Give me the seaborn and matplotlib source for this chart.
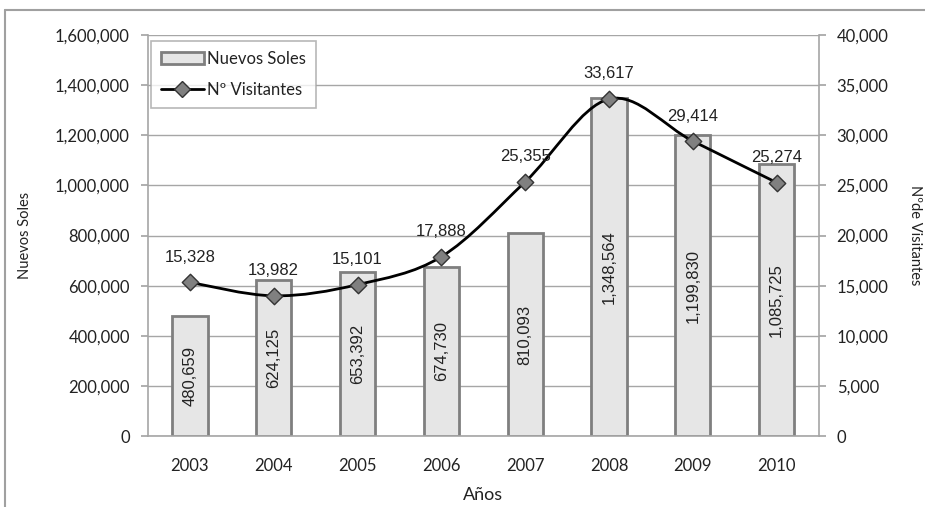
import numpy as np
import pandas as pd
import matplotlib
matplotlib.use("Agg")
import matplotlib.pyplot as plt
import matplotlib.ticker as mticker
from matplotlib.path import Path
from matplotlib.patches import PathPatch, Patch
from matplotlib.lines import Line2D
import seaborn as sns

# ── Datos ──────────────────────────────────────────────────────────────────────
YEARS = ["2003", "2004", "2005", "2006", "2007", "2008", "2009", "2010"]
SOLES = [480659, 624125, 653392, 674730, 810093, 1348564, 1199830, 1085725]
VISITANTES = [15328, 13982, 15101, 17888, 25355, 33617, 29414, 25274]

BAR_FILL = "#E6E6E6"
BAR_EDGE = "#7F7F7F"
GRID = "#A6A6A6"
TXT = "#222222"


def smooth_path(xs, ys):
    """Curva suavizada estilo Excel (Catmull-Rom como Bezier cúbica)."""
    px = [xs[0]] + list(xs) + [xs[-1]]
    py = [ys[0]] + list(ys) + [ys[-1]]
    verts = [(xs[0], ys[0])]
    codes = [Path.MOVETO]
    for i in range(1, len(px) - 2):
        c1 = (px[i] + (px[i + 1] - px[i - 1]) / 6, py[i] + (py[i + 1] - py[i - 1]) / 6)
        c2 = (px[i + 1] - (px[i + 2] - px[i]) / 6, py[i + 1] - (py[i + 2] - py[i]) / 6)
        verts += [c1, c2, (px[i + 1], py[i + 1])]
        codes += [Path.CURVE4] * 3
    return Path(verts, codes)


sns.set_theme(style="white")
plt.rcParams["font.family"] = ["Lato", "DejaVu Sans"]

df = pd.DataFrame({"anio": YEARS, "soles": SOLES, "visitantes": VISITANTES})
pos = np.arange(len(YEARS))

fig = plt.figure(figsize=(9.25, 5.07), dpi=100)
ax = fig.add_axes([0.160, 0.140, 0.725, 0.791])

sns.barplot(data=df, x="anio", y="soles", color=BAR_FILL, saturation=1,
            edgecolor=BAR_EDGE, linewidth=2, width=0.42, ax=ax, zorder=2)
ax.set_xlim(-0.5, len(YEARS) - 0.5)
ax.set_ylim(0, 1600000)
ax.set_yticks(np.arange(0, 1600001, 200000))
ax.yaxis.set_major_formatter(mticker.StrMethodFormatter("{x:,.0f}"))
ax.set_axisbelow(True)
ax.yaxis.grid(True, color=GRID, lw=1)
ax.xaxis.grid(False)

for x, v in zip(pos, SOLES):
    ax.text(x, v / 2, f"{v:,}", rotation=90, ha="center", va="center",
            fontsize=12, color=TXT, family=["Liberation Sans", "DejaVu Sans"], zorder=3)

# ── Eje secundario: visitantes ─────────────────────────────────────────────────
ax2 = ax.twinx()
ax2.set_ylim(0, 40000)
ax2.set_yticks(np.arange(0, 40001, 5000))
ax2.yaxis.set_major_formatter(mticker.StrMethodFormatter("{x:,.0f}"))
ax2.add_patch(PathPatch(smooth_path(pos, VISITANTES), facecolor="none",
                        edgecolor="black", lw=2, zorder=3))
sns.scatterplot(x=pos, y=VISITANTES, marker="D", s=70, color="#808080",
                edgecolor="#333333", linewidth=1, ax=ax2, zorder=4)
for x, v in zip(pos, VISITANTES):
    ax2.annotate(f"{v:,}", (x, v), xytext=(0, 18), textcoords="offset points",
                 ha="center", va="center", fontsize=12, color=TXT,
                 family=["Liberation Sans", "DejaVu Sans"])

# ── Ejes y ticks ───────────────────────────────────────────────────────────────
for a in (ax, ax2):
    a.spines["top"].set_visible(False)
    for s in ("left", "right", "bottom"):
        a.spines[s].set_color(GRID)
        a.spines[s].set_linewidth(1.2)
ax.spines["right"].set_visible(False)
ax2.spines["left"].set_visible(False)
ax2.spines["bottom"].set_visible(False)

ax.set_xticks(pos)
ax.set_xticklabels(YEARS)
ax.set_xticks(np.arange(-0.5, len(YEARS), 1), minor=True)
ax.tick_params(axis="x", which="major", length=0, pad=16, labelsize=12, labelcolor=TXT)
ax.tick_params(axis="x", which="minor", length=5, color=GRID, direction="out")
ax.tick_params(axis="y", length=5, color=GRID, direction="out", pad=8,
               labelsize=12, labelcolor=TXT, left=True)
ax2.tick_params(axis="y", length=5, color=GRID, direction="out", pad=8,
                labelsize=12, labelcolor=TXT, right=True)

ax.set_xlabel("Años", fontsize=13, color=TXT, labelpad=9)
ax.set_ylabel("Nuevos Soles", fontsize=10.5, color=TXT, va="center")
ax.yaxis.set_label_coords(-0.183, 0.5)
ax2.set_ylabel("Nºde Visitantes", fontsize=10.5, color=TXT, rotation=-90, va="center")
ax2.yaxis.set_label_coords(1.143, 0.5)

handles = [
    Patch(facecolor=BAR_FILL, edgecolor=BAR_EDGE, linewidth=2, label="Nuevos Soles"),
    Line2D([0], [0], color="black", lw=2, marker="D", markersize=8,
           markerfacecolor="#808080", markeredgecolor="#333333", label="Nº Visitantes"),
]
leg = ax2.legend(handles=handles, loc="upper left", bbox_to_anchor=(0.004, 0.985),
                 fontsize=12, frameon=True, fancybox=False, edgecolor=GRID,
                 handlelength=2.6, handletextpad=0.2, labelspacing=0.9,
                 borderpad=0.6, borderaxespad=0)
leg.get_frame().set_linewidth(1.2)
for t in leg.get_texts():
    t.set_color(TXT)

# marco del gráfico
fig.add_artist(Line2D([5 / 925, 1], [1 - 10 / 507] * 2, transform=fig.transFigure,
                      color="#A0A0A0", lw=1.5))
fig.add_artist(Line2D([5 / 925] * 2, [0, 1 - 10 / 507], transform=fig.transFigure,
                      color="#A0A0A0", lw=1.5))

fig.savefig("out.png", dpi=100)
